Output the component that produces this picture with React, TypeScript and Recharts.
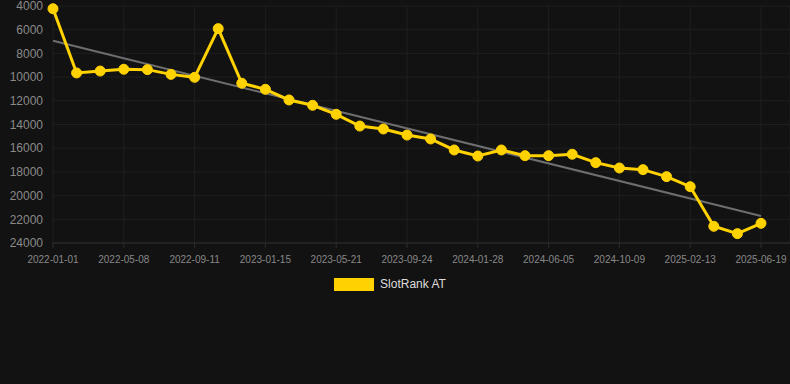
import React from "react";
import { LineChart, Line, XAxis, YAxis, CartesianGrid, Legend } from "recharts";

const dates: string[] = [
  "2022-01-01", "2022-02-12", "2022-03-26",
  "2022-05-08", "2022-06-19", "2022-07-31",
  "2022-09-11", "2022-10-23", "2022-12-04",
  "2023-01-15", "2023-02-26", "2023-04-09",
  "2023-05-21", "2023-07-02", "2023-08-13",
  "2023-09-24", "2023-11-05", "2023-12-17",
  "2024-01-28", "2024-03-10", "2024-04-22",
  "2024-06-05", "2024-07-17", "2024-08-28",
  "2024-10-09", "2024-11-20", "2025-01-01",
  "2025-02-13", "2025-03-27", "2025-05-08",
  "2025-06-19",
];

const rankAT: number[] = [
  4230, 9650, 9490, 9340, 9370, 9770, 10020, 5910, 10520, 11030,
  11930, 12380, 13140, 14130, 14380, 14890, 15220, 16150, 16660, 16150,
  16630, 16630, 16510, 17220, 17670, 17810, 18400, 19250, 22590, 23210,
  22340,
];

const trendStart = 6930;
const trendEnd = 21720;

const yTicks: number[] = [4000, 6000, 8000, 10000, 12000, 14000, 16000, 18000, 20000, 22000, 24000];

const data = dates.map((d, i) => ({
  date: d,
  rank: rankAT[i],
  trend: i === 0 ? trendStart : i === dates.length - 1 ? trendEnd : null,
}));

const renderLegend = () => (
  <div style={{ display: "flex", justifyContent: "center", alignItems: "center", height: 24, paddingRight: 10, fontFamily: "Arial, 'Liberation Sans', sans-serif" }}>
    <div style={{ width: 40, height: 13, background: "#FFD200", marginRight: 6 }} />
    <span style={{ color: "#dddddd", fontSize: 12 }}>SlotRank AT</span>
  </div>
);

export default function App() {
  return (
    <div style={{ position: "fixed", left: 0, top: 0, width: 790, height: 384, background: "#121212" }}>
      <LineChart
        width={790}
        height={300}
        data={data}
        margin={{ top: 6, right: 0, left: 0, bottom: 3 }}
        style={{ fontFamily: "Arial, 'Liberation Sans', sans-serif" }}
      >
        <CartesianGrid stroke="#1f1f1f" strokeWidth={1} />
        <XAxis
          dataKey="date"
          interval={2}
          padding={{ left: 0, right: 29 }}
          tick={{ fill: "#888888", fontSize: 10 }}
          axisLine={{ stroke: "#2c2c2c" }}
          tickLine={{ stroke: "#2c2c2c" }}
          tickSize={5}
          tickMargin={8}
          height={30}
        />
        <YAxis
          reversed
          domain={[4000, 24000]}
          ticks={yTicks}
          interval={0}
          width={53}
          axisLine={false}
          tickLine={false}
          tickMargin={4}
          tick={{ fill: "#8a8a8a", fontSize: 12 }}
        />
        <Line
          dataKey="trend"
          stroke="#6e6e6e"
          strokeWidth={2}
          dot={false}
          connectNulls
          legendType="none"
          isAnimationActive={false}
        />
        <Line
          dataKey="rank"
          name="SlotRank AT"
          stroke="#FFD200"
          strokeWidth={3}
          dot={{ r: 5, fill: "#FFD200", stroke: "#FFD200", strokeWidth: 1 }}
          activeDot={false}
          isAnimationActive={false}
        />
        <Legend verticalAlign="bottom" height={24} content={renderLegend} wrapperStyle={{ top: 272, bottom: "auto" }} />
      </LineChart>
    </div>
  );
}
